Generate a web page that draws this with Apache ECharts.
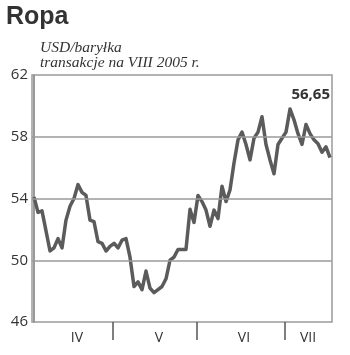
<!DOCTYPE html>
<html><head><meta charset="utf-8">
<script src="https://cdn.jsdelivr.net/npm/echarts@6/dist/echarts.min.js"></script>
<style>html,body{margin:0;padding:0;background:#fff}#c{width:350px;height:355px}</style>
</head><body><div id="c"></div>
<script>
const title = 'Ropa';
const subtitle1 = 'USD/baryłka';
const subtitle2 = 'transakcje na VIII 2005 r.';
const prices = [54.1,53.1,53.2,51.9,50.6,50.8,51.4,50.8,52.6,53.5,
  54.0,54.9,54.4,54.2,52.6,52.5,51.2,51.1,50.6,50.9,
  51.1,50.8,51.3,51.4,50.2,48.3,48.6,48.1,49.3,48.2,
  47.9,48.1,48.3,48.8,50.0,50.2,50.7,50.7,50.7,53.3,
  52.45,54.2,53.8,53.25,52.2,53.25,52.7,54.8,53.8,54.55,
  56.3,57.8,58.3,57.5,56.5,57.9,58.3,59.3,57.5,56.5,
  55.6,57.5,57.9,58.3,59.8,59.1,58.2,57.5,58.8,58.2,
  57.8,57.55,57.0,57.35,56.65];
const yTicks = [46,50,54,58,62];
const months = ['IV','V','VI','VII'];
const monthCenters = [10.75,31.25,52.5,68.5];
const monthBounds = [19.75,40.75,62.75];

const chart = echarts.init(document.getElementById('c'));
const lastVal = prices[prices.length-1];
chart.setOption({
  animation:false,
  grid:{left:32,top:75,width:300,height:247,show:true,borderColor:'#9a9a9a',borderWidth:1.5,containLabel:false},
  xAxis:{type:'value',min:-0.5,max:74.5,
    axisLine:{show:false},
    splitLine:{show:false},
    axisTick:{show:true,customValues:monthBounds,length:18,lineStyle:{color:'#555',width:1.5}},
    axisLabel:{show:true,customValues:monthCenters,margin:9,color:'#333',fontSize:14,fontFamily:'Open Sans',
      formatter:function(v){const i=monthCenters.indexOf(v);return i>=0?months[i]:'';}}
  },
  yAxis:{type:'value',min:46,max:62,interval:2,
    axisLine:{show:true,lineStyle:{color:'#9a9a9a',width:2}},
    axisTick:{show:false},
    splitLine:{show:false},
    axisLabel:{margin:4,color:'#333',fontSize:15,fontFamily:'Open Sans',verticalAlign:'middle',padding:[7,0,0,0],
      formatter:function(v){return yTicks.indexOf(v)>=0?String(v):'';}}
  },
  series:[{type:'line',data:prices.map((v,i)=>[i,v]),showSymbol:false,
    lineStyle:{color:'#5b5b5b',width:3.5,join:'round'},
    markLine:{silent:true,symbol:'none',label:{show:false},lineStyle:{color:'#9a9a9a',width:1.5,type:'solid'},
      data:yTicks.slice(1,4).map(v=>({yAxis:v}))}
  }],
  graphic:[
    {type:'text',left:6,top:5,style:{text:title,font:'bold 25px "Liberation Sans"',fill:'#333'}},
    {type:'text',left:40,top:40,style:{text:subtitle1,font:'italic 15.5px "Liberation Serif"',fill:'#333'}},
    {type:'text',left:40,top:55,style:{text:subtitle2,font:'italic 15.5px "Liberation Serif"',fill:'#333'}},
    {type:'text',right:20,top:87,style:{text:lastVal.toFixed(2).replace('.',','),font:'bold 15px "Open Sans"',fill:'#333'}}
  ]
});
</script></body></html>
